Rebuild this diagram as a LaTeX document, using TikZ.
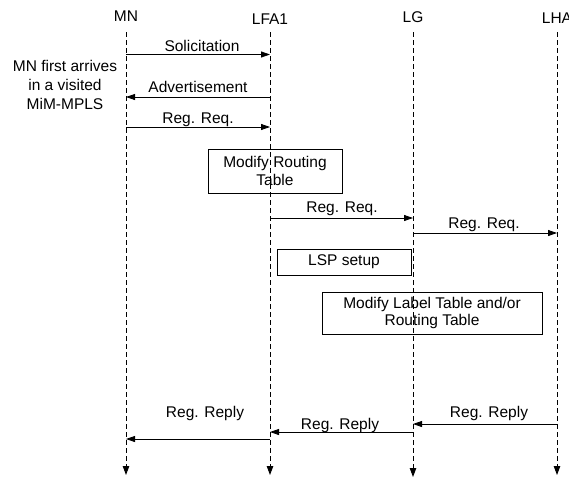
\documentclass[tikz,border=0pt]{standalone}
\usepackage{fontspec}
\setmainfont{Liberation Sans}
\usetikzlibrary{arrows.meta}
\begin{document}
\begin{tikzpicture}[x=1pt,y=-1pt,
  lbl/.style={font=\fontsize{15.5}{19}\selectfont, inner sep=0pt, anchor=base},
  life/.style={draw=black, dash pattern=on 5pt off 3pt, line width=0.9pt, -{Triangle[length=9pt,width=6.5pt]}},
  msg/.style={draw=black, line width=0.8pt, -{Triangle[length=9pt,width=6pt]}},
  procbox/.style={draw=black, line width=0.8pt, align=center, inner sep=0pt, font=\fontsize{15.5}{17.5}\selectfont}
]
\useasboundingbox (0,0) rectangle (569,477);

% heads
\node[lbl] (MN) at (126,21) {MN};
\node[lbl] (LFA) at (270,24) {LFA1};
\node[lbl] (LG) at (413,22) {LG};
\node[lbl] (LHA) at (557,23) {LHA};

% lifeline ends
\coordinate (mnT) at (126,32);  \coordinate (mnB) at (126,475);
\coordinate (lfT) at (270,32);  \coordinate (lfB) at (270,475);
\coordinate (lgT) at (413,32);  \coordinate (lgB) at (413,477);
\coordinate (lhT) at (557,32);  \coordinate (lhB) at (557,475);

% boxes (drawn first, lifelines visible through)
\node[procbox, minimum width=134pt, minimum height=44pt] (mrt) at (275,171) {Modify Routing\\Table};
\node[procbox, minimum width=134pt, minimum height=26pt] (lsp) at (344,262) {LSP setup};
\node[procbox, minimum width=220pt, minimum height=42pt] (mlt) at (432,313) {Modify Label Table and/or\\Routing Table};

\draw[life] (mnT) -- (mnB);
\draw[life] (lfT) -- (lfB);
\draw[life] (lgT) -- (lgB);
\draw[life] (lhT) -- (lhB);

% side note (base anchor = baseline of last line)
\node[lbl, align=center, anchor=base] (note) at (65,109) {MN first arrives\\in a visited\\MiM-MPLS};

% message endpoints
\coordinate (s1a) at (126,54.5); \coordinate (s1b) at (270,54.5);
\coordinate (a1a) at (270,97);   \coordinate (a1b) at (126,97);
\coordinate (r1a) at (126,127);  \coordinate (r1b) at (270,127);
\coordinate (r2a) at (270,218);  \coordinate (r2b) at (413,218);
\coordinate (r3a) at (413,233);  \coordinate (r3b) at (557,233);
\coordinate (p3a) at (557,424);  \coordinate (p3b) at (413,424);
\coordinate (p2a) at (413,432);  \coordinate (p2b) at (270,432);
\coordinate (p1a) at (270,439);  \coordinate (p1b) at (126,439);

\draw[msg] (s1a) -- (s1b);
\draw[msg] (a1a) -- (a1b);
\draw[msg] (r1a) -- (r1b);
\draw[msg] (r2a) -- (r2b);
\draw[msg] (r3a) -- (r3b);
\draw[msg] (p3a) -- (p3b);
\draw[msg] (p2a) -- (p2b);
\draw[msg] (p1a) -- (p1b);

% message labels
\node[lbl] (ls1) at (202,51) {Solicitation};
\node[lbl] (la1) at (198,92) {Advertisement};
\node[lbl] (lr1) at (198,123) {Reg. Req.};
\node[lbl] (lr2) at (342,212) {Reg. Req.};
\node[lbl] (lr3) at (484,228) {Reg. Req.};
\node[lbl] (lp3) at (489,417) {Reg. Reply};
\node[lbl] (lp2) at (340,429) {Reg. Reply};
\node[lbl] (lp1) at (205,417) {Reg. Reply};
\end{tikzpicture}
\end{document}
